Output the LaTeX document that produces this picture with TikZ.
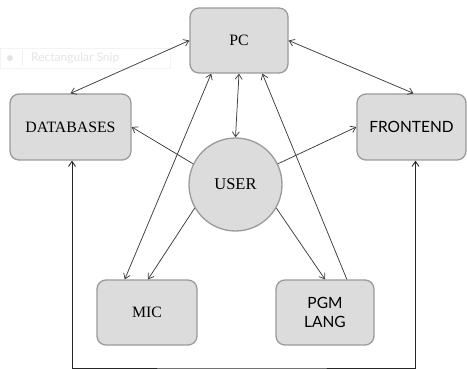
\documentclass[tikz,border=0pt]{standalone}
\usepackage{fontspec}
\setmainfont{Liberation Serif}
\newfontfamily\labelsans{Lato}
\usetikzlibrary{arrows.meta,calc}
\definecolor{boxfill}{HTML}{DCDCDC}
\definecolor{boxline}{HTML}{9A9A9A}
\definecolor{wire}{HTML}{3C3C3C}
\definecolor{ghost}{HTML}{E4E4E4}
\tikzset{
  unit/.style={draw=boxline, fill=boxfill, line width=1.3pt, rounded corners=9pt,
    inner sep=0pt, font=\fontsize{15.8}{19}\selectfont, align=center},
  hub/.style={circle, draw=boxline, fill=boxfill, line width=1.3pt, inner sep=0pt,
    minimum size=93pt, font=\fontsize{16.5}{19}\selectfont},
  link/.style={draw=wire, line width=0.75pt, -{Straight Barb[length=5pt,width=7pt]}},
  both/.style={link, {Straight Barb[length=5pt,width=7pt]}-{Straight Barb[length=5pt,width=7pt]}},
}
\begin{document}
\begin{tikzpicture}[x=1pt, y=-1pt]
  \useasboundingbox (0,0) rectangle (467,369);

  % faint snipping-tool strip
  \node[draw=ghost!45, line width=0.4pt, minimum width=170pt, minimum height=20pt,
    anchor=west, inner sep=0pt] (snip) at (0,58) {};
  \fill[ghost] (10,58) circle (3pt);
  \draw[ghost!60, line width=0.4pt] (22,50) -- (22,66);
  \node[anchor=west, text=ghost, inner sep=0pt, font=\labelsans\fontsize{12}{14}\selectfont]
    (sniptext) at (31,58) {Rectangular Snip};

  % blocks
  \node[unit, minimum width=98pt, minimum height=65pt] (pc) at (239,40.5) {PC};
  \node[unit, minimum width=121pt, minimum height=66pt] (db) at (70.5,127) {DATABASES};
  \node[unit, minimum width=109pt, minimum height=66pt, font=\labelsans\fontsize{15.5}{19}\selectfont]
    (fe) at (411.5,127) {FRONTEND};
  \node[unit, minimum width=100pt, minimum height=65pt] (mic) at (147,312.5) {MIC};
  \node[unit, minimum width=98pt, minimum height=65pt, font=\labelsans\fontsize{15.5}{19}\selectfont]
    (pgm) at (325,312.5) {PGM\\LANG};
  \node[hub] (user) at (235.5,184.5) {USER};

  % links to and from the PC
  \draw[both] (pc.west) -- (db.north);
  \draw[both] (pc.east) -- ($(fe.north)+(2,0)$);
  \draw[both] (pc.south) -- (user.north);
  \draw[both] ($(mic.north west)!0.28!(mic.north east)$) -- ($(pc.south west)!0.22!(pc.south east)$);
  \draw[link] ($(pgm.north west)!0.72!(pgm.north east)$) -- ($(pc.south west)!0.735!(pc.south east)$);

  % links from the user
  \draw[link] (user.154) -- (db.east);
  \draw[link] (user.26) -- (fe.west);
  \draw[link] (user.210) -- ($(mic.north)+(1,0)$);
  \draw[link] (user.330) -- (pgm.north);

  % loop under the whole layout
  \coordinate (loop) at (240,368);
  \coordinate (fefoot) at ($(fe.south)+(4,0)$);
  \draw[both, draw=black!85, line width=0.9pt] ($(db.south)+(1.5,0)$) |- (loop) -| (fefoot);
\end{tikzpicture}
\end{document}
